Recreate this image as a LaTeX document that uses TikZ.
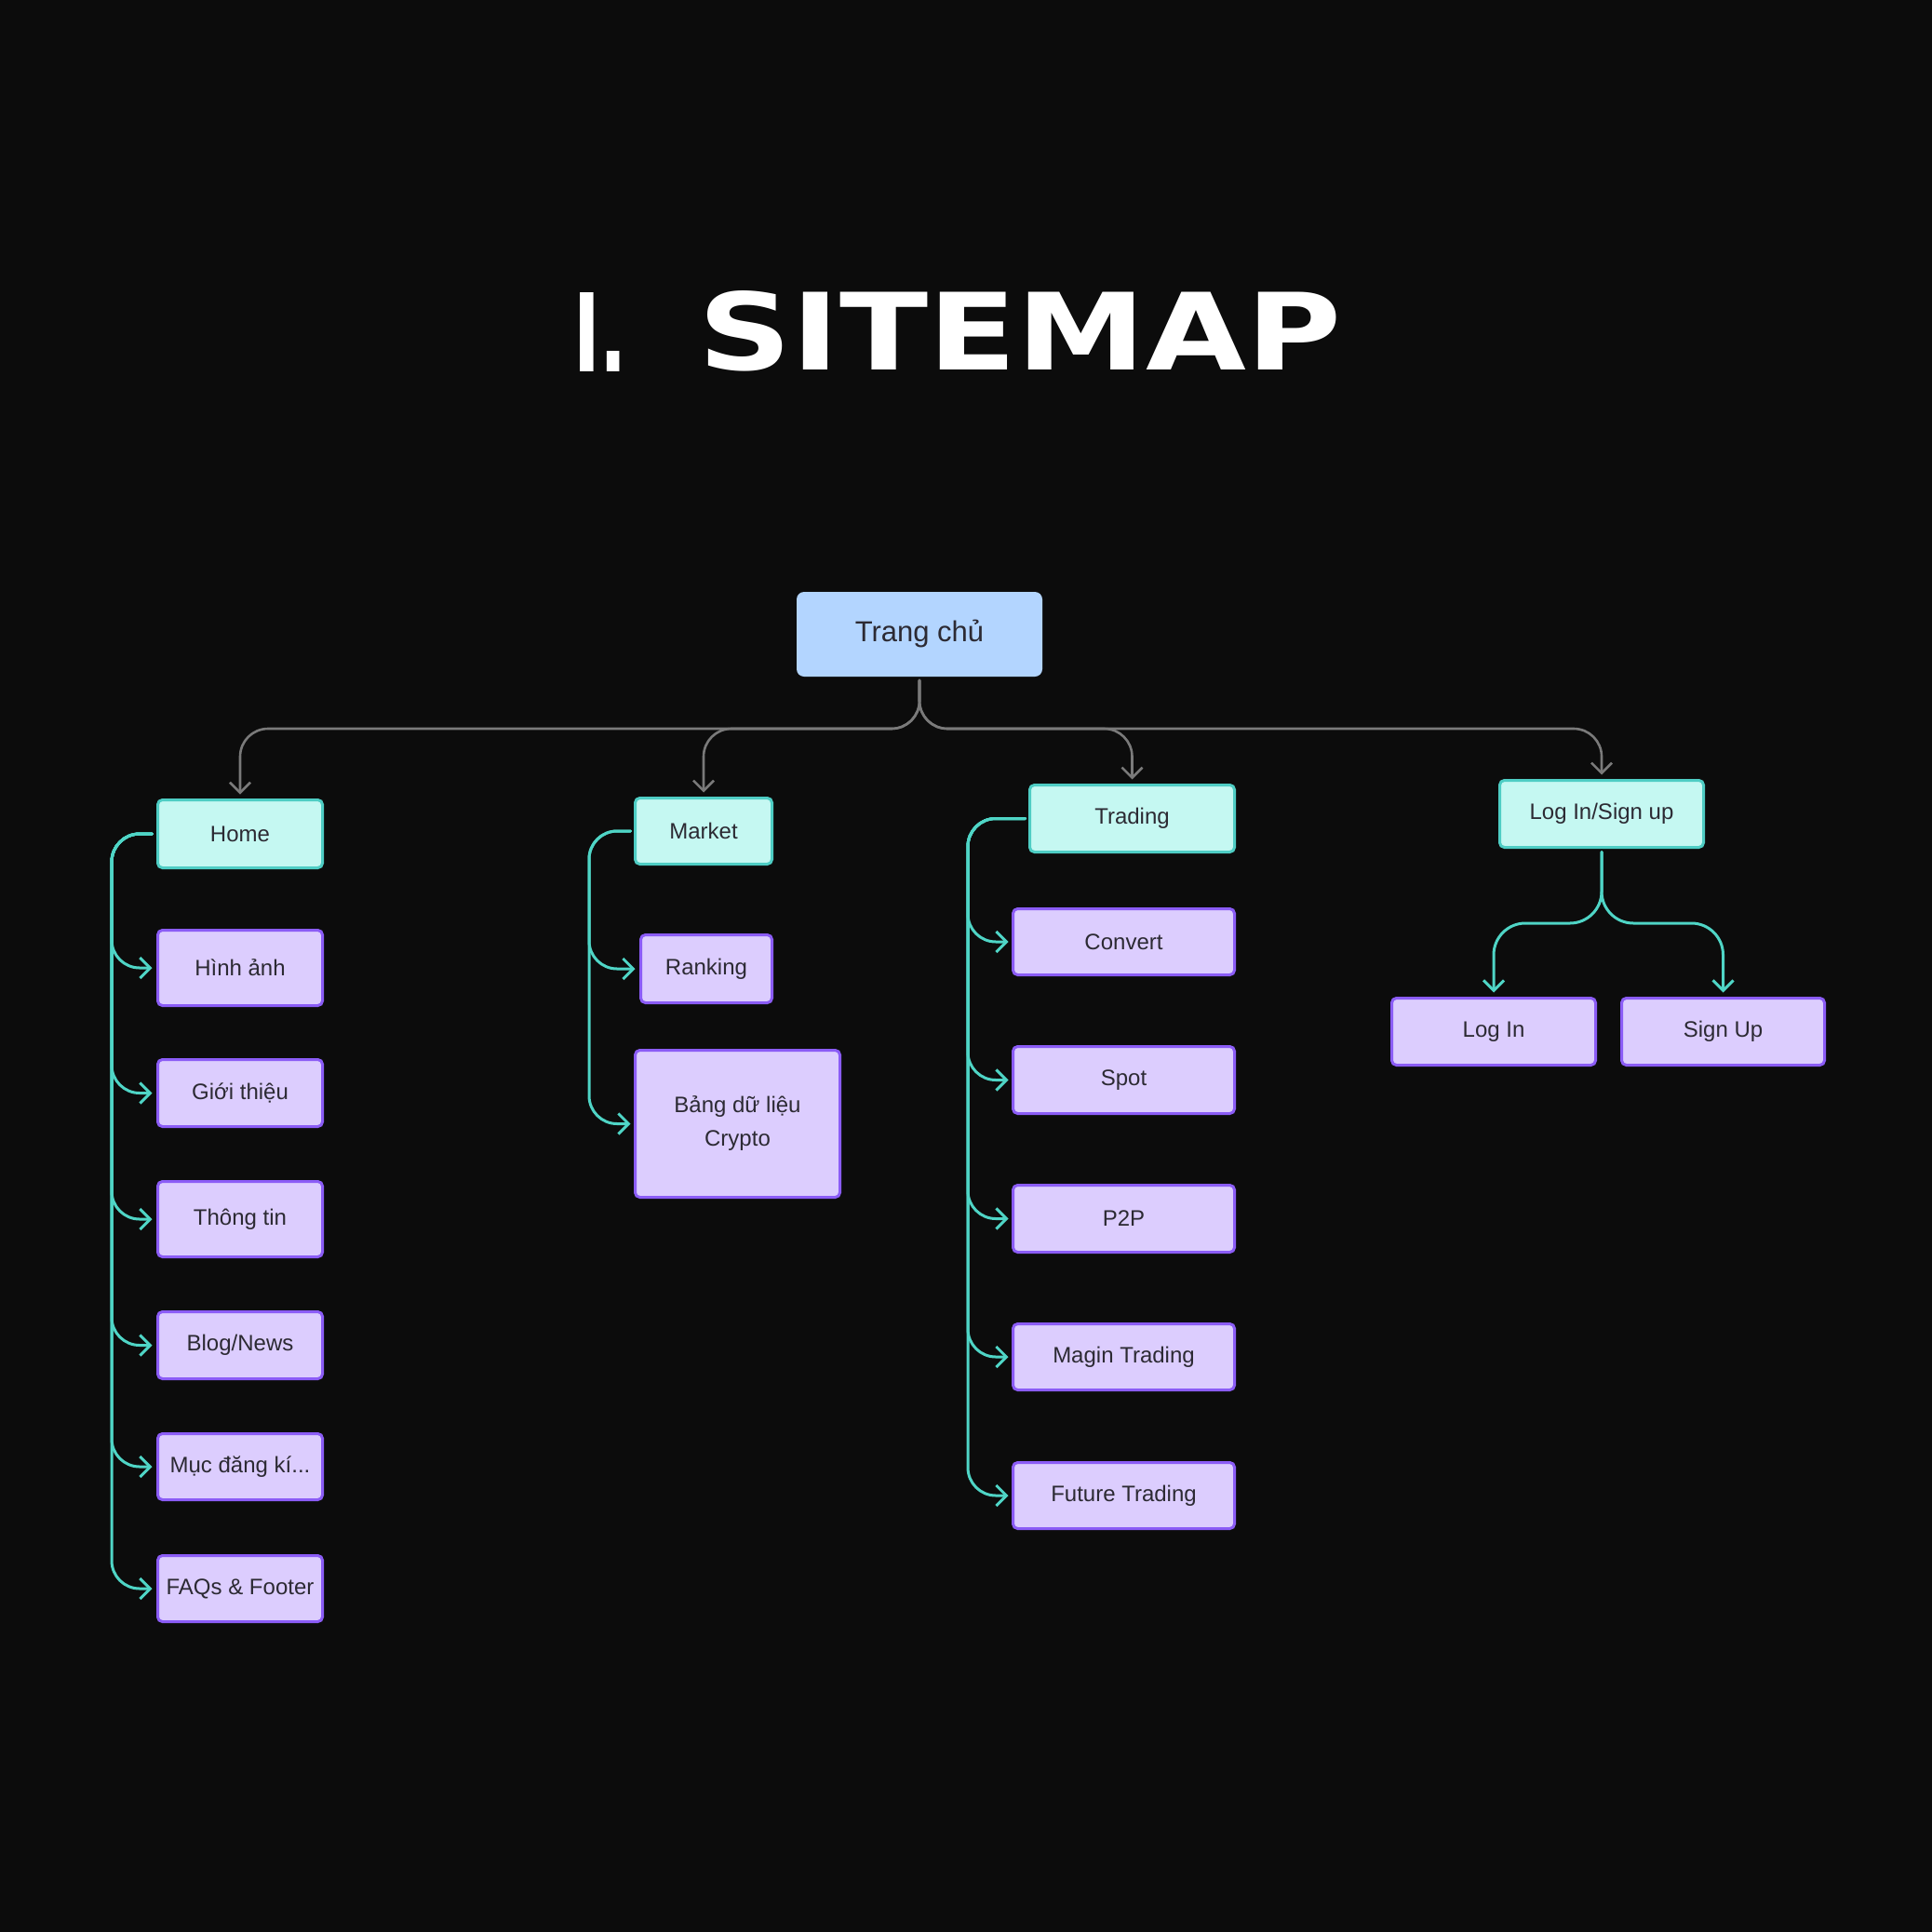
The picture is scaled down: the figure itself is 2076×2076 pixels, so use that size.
\documentclass[tikz,border=0pt]{standalone}
\usepackage{fontspec}
\setmainfont{Liberation Sans}
\newfontfamily\titlefont{DejaVu Sans}
\usetikzlibrary{arrows.meta}
\definecolor{bg}{HTML}{0C0C0C}
\definecolor{txt}{HTML}{2C2A33}
\definecolor{cyanf}{HTML}{C5F8F2}
\definecolor{tealb}{HTML}{4ECDC4}
\definecolor{purf}{HTML}{DCCDFE}
\definecolor{purb}{HTML}{8B5CF6}
\definecolor{rootf}{HTML}{B3D5FF}
\definecolor{tealline}{HTML}{4FD5C6}
\definecolor{grayline}{HTML}{7A7A7A}
\begin{document}
\begin{tikzpicture}[x=1pt,y=-1pt,
  box/.style={rectangle, rounded corners=5pt, line width=3pt, inner sep=0pt, outer sep=0pt,
    text=txt, font=\fontsize{24}{36}\selectfont, align=center},
  headbox/.style={box, draw=tealb, fill=cyanf},
  subbox/.style={box, draw=purb, fill=purf},
  rootbox/.style={box, fill=rootf, rounded corners=8pt, font=\fontsize{31}{37}\selectfont},
  tconn/.style={draw=tealline, line width=3pt, rounded corners=30pt, line cap=round,
    -{Straight Barb[length=11pt,width=22pt,line width=3pt]}},
  gconn/.style={draw=grayline, line width=2.6pt, rounded corners=30pt, line cap=round,
    -{Straight Barb[length=11pt,width=22pt,line width=2.6pt]}},
  titletext/.style={anchor=south west, inner sep=0pt, outer sep=0pt, text=white}
]
\fill[bg] (0,0) rectangle (2076,2076);
\useasboundingbox (0,0) rectangle (2076,2076);

% title
\node[titletext] (tnum) at (616,399) {\resizebox{58pt}{85pt}{\titlefont\bfseries I.}};
\node[titletext] (tword) at (750,399) {\resizebox{691pt}{85pt}{\titlefont\bfseries SITEMAP}};

% root
\node[rootbox, minimum width=264pt, minimum height=91pt] (root) at (988,681.5) {Trang chủ};

% heads
\node[headbox, minimum width=177pt, minimum height=73pt] (home) at (258,896) {Home};
\node[headbox, minimum width=147pt, minimum height=71pt] (market) at (756,893) {Market};
\node[headbox, minimum width=220pt, minimum height=72pt] (trading) at (1216.5,879.5) {Trading};
\node[headbox, minimum width=219pt, minimum height=72pt] (ls) at (1721,874.5) {Log In/Sign up};

% home children
\node[subbox, minimum width=177pt, minimum height=81pt] (hinh) at (258,1040) {Hình ảnh};
\node[subbox, minimum width=177pt, minimum height=72pt] (gioi) at (258,1174.5) {Giới thiệu};
\node[subbox, minimum width=177pt, minimum height=81pt] (thong) at (258,1310) {Thông tin};
\node[subbox, minimum width=177pt, minimum height=72pt] (blog) at (258,1445.5) {Blog/News};
\node[subbox, minimum width=177pt, minimum height=71pt] (muc) at (258,1576) {Mục đăng kí...};
\node[subbox, minimum width=177pt, minimum height=71pt] (faq) at (258,1707) {FAQs \& Footer};

% market children
\node[subbox, minimum width=141pt, minimum height=73pt] (rank) at (759,1041) {Ranking};
\node[subbox, minimum width=220pt, minimum height=158pt] (bang) at (792.5,1207.5) {Bảng dữ liệu\\Crypto};

% trading children
\node[subbox, minimum width=238pt, minimum height=71pt] (conv) at (1207.5,1012) {Convert};
\node[subbox, minimum width=238pt, minimum height=72pt] (spot) at (1207.5,1160.5) {Spot};
\node[subbox, minimum width=238pt, minimum height=72pt] (p2p) at (1207.5,1309.5) {P2P};
\node[subbox, minimum width=238pt, minimum height=71pt] (magin) at (1207.5,1458) {Magin Trading};
\node[subbox, minimum width=238pt, minimum height=71pt] (fut) at (1207.5,1607) {Future Trading};

% login children
\node[subbox, minimum width=219pt, minimum height=72pt] (login) at (1605,1108.5) {Log In};
\node[subbox, minimum width=218pt, minimum height=72pt] (signup) at (1851.5,1108.5) {Sign Up};

% helper coordinates
\coordinate (hbar) at (0,783);
\coordinate (lbar) at (0,992);
\coordinate (trA) at (120,0);
\coordinate (trB) at (633,0);
\coordinate (trC) at (1040,0);

% gray connectors from root
\foreach \t in {home,market,trading,ls}{
  \draw[gconn] ([yshift=-4pt]root.south) -- (root.south |- hbar) -- (\t.north |- hbar) -- ([yshift=6pt]\t.north);
}

% home branches
\foreach \c in {hinh,gioi,thong,blog,muc,faq}{
  \draw[tconn] ([xshift=-6pt]home.west) -- (trA |- home.west) -- (trA |- \c.west) -- ([xshift=-6pt]\c.west);
}
% market branches
\draw[tconn] ([xshift=-5pt]market.west) -- (trB |- market.west) -- (trB |- rank.west) -- ([xshift=-6pt]rank.west);
\draw[tconn] ([xshift=-5pt]market.west) -- (trB |- market.west) -- (trB |- bang.west) -- ([xshift=-5pt]bang.west);
% trading branches
\foreach \c in {conv,spot,p2p,magin,fut}{
  \draw[tconn] ([xshift=-5pt]trading.west) -- (trC |- trading.west) -- (trC |- \c.west) -- ([xshift=-5pt]\c.west);
}
% login branches
\foreach \c in {login,signup}{
  \draw[tconn, rounded corners=34pt] ([yshift=-5pt]ls.south) -- (ls.south |- lbar) -- (\c.north |- lbar) -- ([yshift=6pt]\c.north);
}
\end{tikzpicture}
\end{document}
